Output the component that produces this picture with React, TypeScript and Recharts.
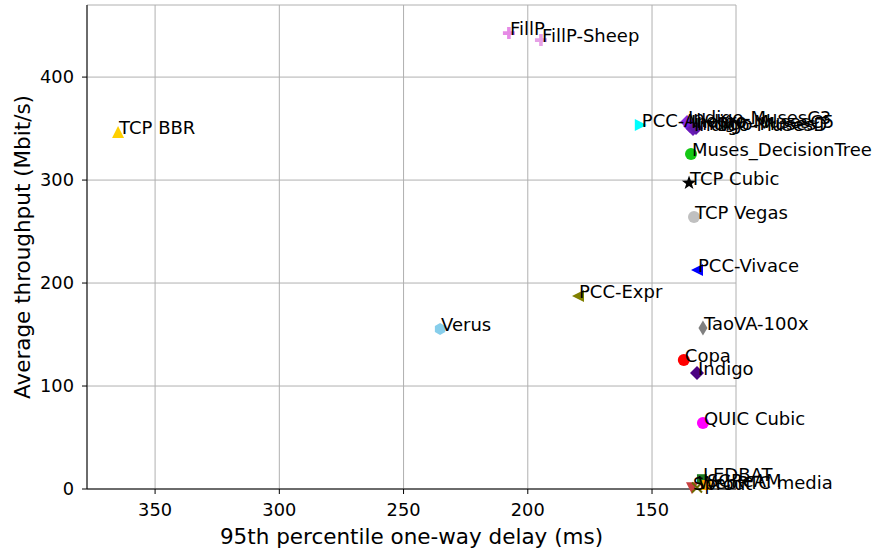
import { CartesianGrid, Scatter, ScatterChart, XAxis, YAxis } from "recharts";

const schemes = [
  "TCP BBR", "FillP", "FillP-Sheep", "PCC-Allegro",
  "Indigo-MusesC3", "Indigo-MusesC5", "Indigo-MusesD", "Indigo-MusesT",
  "Muses_DecisionTree", "TCP Cubic", "TCP Vegas", "PCC-Vivace", "PCC-Expr",
  "Verus", "TaoVA-100x", "Copa", "Indigo", "QUIC Cubic",
  "LEDBAT", "Sprout", "SCReAM", "WebRTC media",
];
// 95th percentile one-way delay (ms)
const delays = [
  364.9, 207.6, 194.7, 154.5,
  135.9, 134.7, 133.5, 132.3,
  134.3, 135.1, 133.1, 131.9, 179.8,
  235.3, 129.5, 137.2, 131.9, 129.5,
  129.9, 133.9, 128.3, 131.9,
];
// average throughput (Mbit/s)
const throughputs = [
  346.6, 442.7, 435.9, 353.4,
  356.3, 352.4, 349.5, 350.5,
  325.2, 297.1, 264.1, 212.6, 187.4,
  155.3, 156.3, 125.2, 112.6, 64.1,
  9.5, 0.8, 3.9, 1.5,
];

const xTicks = [150, 200, 250, 300, 350];
const yTicks = [0, 100, 200, 300, 400];

const styles: Record<string, { color: string; marker: string }> = {
  "TCP BBR": { color: "#ffd000", marker: "^" },
  FillP: { color: "#e68be6", marker: "P" },
  "FillP-Sheep": { color: "#e6a0e6", marker: "P" },
  "PCC-Allegro": { color: "#00ffff", marker: ">" },
  "Indigo-MusesC3": { color: "#8a2be2", marker: "D" },
  "Indigo-MusesC5": { color: "#7a1fe0", marker: "D" },
  "Indigo-MusesD": { color: "#6a1bb8", marker: "D" },
  "Indigo-MusesT": { color: "#5e1aa8", marker: "D" },
  Muses_DecisionTree: { color: "#14c814", marker: "o" },
  "TCP Cubic": { color: "#000000", marker: "*" },
  "TCP Vegas": { color: "#c0c0c0", marker: "o" },
  "PCC-Vivace": { color: "#0000ff", marker: "<" },
  "PCC-Expr": { color: "#808000", marker: "<" },
  Verus: { color: "#87ceeb", marker: "h" },
  "TaoVA-100x": { color: "#808080", marker: "d" },
  Copa: { color: "#ff0000", marker: "o" },
  Indigo: { color: "#4b0082", marker: "D" },
  "QUIC Cubic": { color: "#ff00ff", marker: "o" },
  LEDBAT: { color: "#1f7a1f", marker: "s" },
  Sprout: { color: "#c84040", marker: "v" },
  SCReAM: { color: "#ffa500", marker: "s" },
  "WebRTC media": { color: "#6b6b00", marker: "x" },
};

const data = schemes.map((name, i) => ({ name, delay: delays[i], tput: throughputs[i] }));

const FONT = "DejaVu Sans, sans-serif";

function Marker(props: any) {
  const { cx, cy, payload } = props;
  const s = styles[payload.name];
  const c = s.color;
  const r = 6;
  switch (s.marker) {
    case "o":
      return <circle cx={cx} cy={cy} r={r} fill={c} />;
    case "^":
      return <polygon points={`${cx},${cy - r} ${cx - r},${cy + r} ${cx + r},${cy + r}`} fill={c} />;
    case "v":
      return <polygon points={`${cx},${cy + r} ${cx - r},${cy - r} ${cx + r},${cy - r}`} fill={c} />;
    case ">":
      return <polygon points={`${cx + r},${cy} ${cx - r},${cy - r} ${cx - r},${cy + r}`} fill={c} />;
    case "<":
      return <polygon points={`${cx - r},${cy} ${cx + r},${cy - r} ${cx + r},${cy + r}`} fill={c} />;
    case "D":
      return <polygon points={`${cx},${cy - 7} ${cx + 7},${cy} ${cx},${cy + 7} ${cx - 7},${cy}`} fill={c} />;
    case "d":
      return <polygon points={`${cx},${cy - 7.5} ${cx + 4.5},${cy} ${cx},${cy + 7.5} ${cx - 4.5},${cy}`} fill={c} />;
    case "s":
      return <rect x={cx - 5} y={cy - 5} width={10} height={10} fill={c} />;
    case "x":
      return (
        <path d={`M${cx - 5},${cy - 5}L${cx + 5},${cy + 5}M${cx - 5},${cy + 5}L${cx + 5},${cy - 5}`} stroke={c} strokeWidth={2} />
      );
    case "P":
      return (
        <path
          d={`M${cx - 1.8},${cy - 6}h3.6v4.2h4.2v3.6h-4.2v4.2h-3.6v-4.2h-4.2v-3.6h4.2z`}
          fill={c}
        />
      );
    case "h": {
      const pts = [0, 1, 2, 3, 4, 5]
        .map((k) => {
          const a = (Math.PI / 3) * k - Math.PI / 2;
          return `${cx + r * Math.cos(a)},${cy + r * Math.sin(a)}`;
        })
        .join(" ");
      return <polygon points={pts} fill={c} />;
    }
    case "*": {
      const pts = Array.from({ length: 10 }, (_, k) => {
        const rr = k % 2 === 0 ? 7.5 : 3;
        const a = (Math.PI / 5) * k - Math.PI / 2;
        return `${cx + rr * Math.cos(a)},${cy + rr * Math.sin(a)}`;
      }).join(" ");
      return <polygon points={pts} fill={c} />;
    }
    default:
      return <circle cx={cx} cy={cy} r={r} fill={c} />;
  }
}

function Annotation(props: any) {
  const { cx, cy, payload } = props;
  return (
    <text x={cx + 1} y={cy + 2} fontSize={18} fontFamily={FONT} fill="#000">
      {payload.name}
    </text>
  );
}

function XLabel(props: any) {
  const { viewBox } = props;
  return (
    <text x={viewBox.x + viewBox.width / 2} y={544} textAnchor="middle" fontSize={21.5} fontFamily={FONT} fill="#000">
      95th percentile one-way delay (ms)
    </text>
  );
}

function YLabel(props: any) {
  const { viewBox } = props;
  const cy = viewBox.y + viewBox.height / 2;
  return (
    <text
      x={30}
      y={cy}
      transform={`rotate(-90 30 ${cy})`}
      textAnchor="middle"
      fontSize={21.5}
      fontFamily={FONT}
      fill="#000"
    >
      Average throughput (Mbit/s)
    </text>
  );
}

const tickStyle = { fill: "#000", fontSize: 17.8, fontFamily: FONT };

export default function App() {
  return (
    <div style={{ position: "absolute", left: 0, top: 0, width: 881, height: 552, background: "#fff" }}>
      <ScatterChart width={881} height={552} margin={{ top: 5, right: 145, left: 0, bottom: 0 }}>
        <CartesianGrid stroke="#b0b0b0" strokeWidth={1} />
        <XAxis
          type="number"
          dataKey="delay"
          reversed
          domain={[116.2, 377.4]}
          ticks={xTicks}
          height={63}
          tickSize={5}
          tickMargin={9.5}
          stroke="#000"
          tick={tickStyle}
          label={<XLabel />}
        />
        <XAxis xAxisId="top" orientation="top" type="number" domain={[116.2, 377.4]} height={0} tick={false} tickLine={false} stroke="#000" />
        <YAxis
          type="number"
          dataKey="tput"
          domain={[0, 470]}
          ticks={yTicks}
          width={87}
          tickSize={5}
          tickMargin={8}
          stroke="#000"
          tick={tickStyle}
          label={<YLabel />}
        />
        <YAxis yAxisId="right" orientation="right" type="number" domain={[0, 470]} width={0} tick={false} tickLine={false} stroke="#000" />
        <Scatter data={data} shape={<Marker />} isAnimationActive={false} />
        <Scatter data={data} shape={<Annotation />} isAnimationActive={false} />
      </ScatterChart>
    </div>
  );
}
